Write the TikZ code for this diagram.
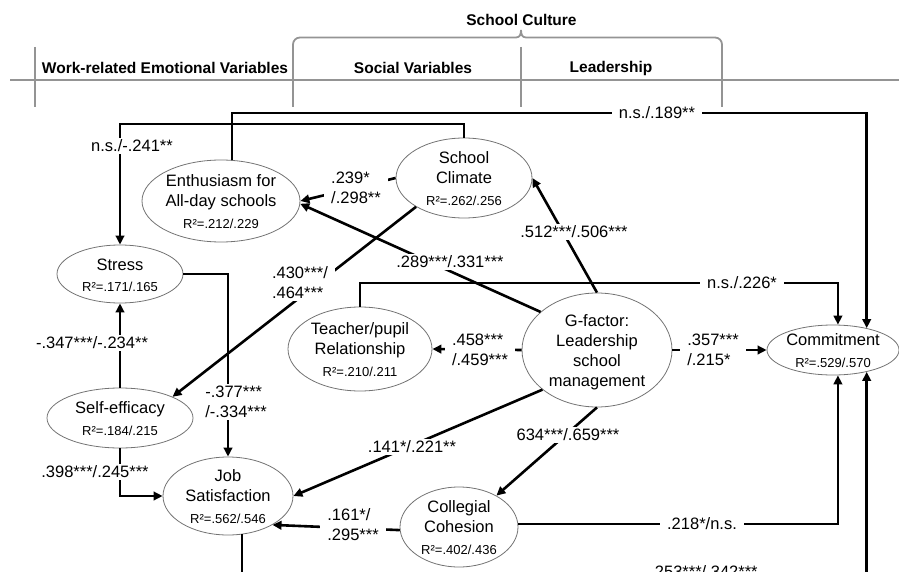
\documentclass[tikz,border=0pt]{standalone}
\usepackage{fontspec}
\setmainfont{Liberation Sans}
\usetikzlibrary{shapes.geometric,arrows.meta}
\newcommand{\lbl}{\fontsize{16.5}{20}\selectfont}
\newcommand{\rsq}{\fontsize{13}{15}\selectfont}
\newcommand{\hdr}{\fontsize{15.5}{18}\selectfont\bfseries}
\newcommand{\inell}[1]{\makebox[0pt]{\raisebox{-7pt}[0pt][0pt]{\begin{tabular}{@{}c@{}}#1\end{tabular}}}}
\tikzset{latent/.style={
  shape=ellipse,
  draw=black!55,
  line width=0.8pt,
  inner sep=0pt,
  font=\lbl,
  },
  coef/.style={
  fill=white,
  inner xsep=7pt,
  inner ysep=2pt,
  align=left,
  font=\lbl,
  },
  conn/.style={
  line width=2.6pt,
  -{Triangle[length=9pt,width=8.5pt]},
  },
  rule/.style={
  draw=black!42,
  line width=1.8pt,
  },
  }

\begin{document}
\begin{tikzpicture}[x=1pt,y=-1pt]
      \useasboundingbox (0,0) rectangle (899,572);
      \clip (0,0) rectangle (899,572);

      \draw[rule] (10,80) -- (899,80);
      \draw[rule] (35,47) -- (35,107);
      \draw[rule] (521,47) -- (521,107);
      \draw[rule, rounded corners=7pt] (293,107) -- (293,37.5) -- (516,37.5);
      \draw[rule] (516,37.5) .. controls (520,37.5) and (521,34) .. (521,30)
                  .. controls (521,34) and (522,37.5) .. (526,37.5);
      \draw[rule, rounded corners=7pt] (526,37.5) -- (722,37.5) -- (722,107);
      \node[font=\hdr] (hcult) at (521.5,20) {School Culture};
      \node[font=\hdr] (hwork) at (165,68) {Work-related Emotional Variables};
      \node[font=\hdr] (hsoc)  at (413,68) {Social Variables};
      \node[font=\hdr] (hlead) at (611,68) {Leadership};

      \node[latent, minimum width=158pt, minimum height=82pt] (enth) at (221,201)
        {\inell{Enthusiasm for\\All-day schools\\[2pt]{\rsq R²=.212/.229}}};
      \node[latent, minimum width=136pt, minimum height=80pt] (clim) at (464,178)
        {\inell{School\\Climate\\[2pt]{\rsq R²=.262/.256}}};
      \node[latent, minimum width=126pt, minimum height=58pt] (stress) at (120,274)
        {\inell{Stress\\[1pt]{\rsq R²=.171/.165}}};
      \node[latent, minimum width=144pt, minimum height=84pt] (tp) at (360,349)
        {\inell{Teacher/pupil\\Relationship\\[2pt]{\rsq R²=.210/.211}}};
      \node[latent, minimum width=150pt, minimum height=114pt] (gf) at (597,350)
        {\inell{G-factor:\\Leadership\\school\\management}};
      \node[latent, minimum width=132pt, minimum height=50pt] (comm) at (833,350)
        {\inell{Commitment\\[2pt]{\rsq R²=.529/.570}}};
      \node[latent, minimum width=146pt, minimum height=60pt] (self) at (120,418)
        {\inell{Self-efficacy\\[2pt]{\rsq R²=.184/.215}}};
      \node[latent, minimum width=130pt, minimum height=78pt] (job) at (228,496)
        {\inell{Job\\Satisfaction\\[2pt]{\rsq R²=.562/.546}}};
      \node[latent, minimum width=118pt, minimum height=80pt] (coll) at (459,527)
        {\inell{Collegial\\Cohesion\\[2pt]{\rsq R²=.402/.436}}};

      \coordinate (k1) at (comm.33 |- 0,113);
      \coordinate (k2) at (stress.north |- 0,124);
      \coordinate (k3) at (comm.79 |- 0,283);
      \coordinate (k4) at (comm.-33 |- 0,574);

      \draw[conn] (enth.75) |- (k1) -- (comm.33);
      \draw[conn] (clim.north) |- (k2) -- (stress.north);
      \draw[conn] (clim.west) -- (enth.east);
      \draw[conn] (gf.146) -- (enth.-2);
      \draw[conn] (clim.211) -- (self.22);
      \draw[conn] (gf.north) -- (clim.east);
      \draw[conn] (tp.north) |- (k3) -- (comm.79);
      \draw[conn] (gf.west) -- (tp.east);
      \draw[conn] (gf.east) -- (comm.west);
      \draw[conn] (stress.east) -| (job.north);
      \draw[conn] (self.north) -- (stress.south);
      \draw[conn] (self.south) |- (job.west);
      \draw[conn] (gf.216) -- (job.east);
      \draw[conn] (gf.south) -- (coll.40);
      \draw[conn] (coll.183) -- (job.-33);
      \draw[conn] (coll.3) -| (comm.-79);
      \draw[conn] (job.-70) |- (k4) -- (comm.-33);

      \node[coef] (l189) at (657,113) {n.s./.189**};
      \node[coef] (l241) at (132,146) {n.s./-.241**};
      \node[coef] (l239) at (356,188) {.239*\\/.298**};
      \node[coef] (l289) at (450,262) {.289***/.331***};
      \node[coef] (l430) at (300,283) {.430***/\\.464***};
      \node[coef] (l512) at (574,232) {.512***/.506***};
      \node[coef] (l226) at (742,283) {n.s./.226*};
      \node[coef] (l458) at (480,350) {.458***\\/.459***};
      \node[coef] (l357) at (713,350) {.357***\\/.215*};
      \node[coef] (l377) at (236,402) {-.377***\\/-.334***};
      \node[coef] (l347) at (92,343) {-.347***/-.234**};
      \node[coef] (l398) at (95,472) {.398***/.245***};
      \node[coef] (l141) at (412,447) {.141*/.221**};
      \node[coef] (l634) at (568,435) {634***/.659***};
      \node[coef] (l161) at (353,525) {.161*/\\.295***};
      \node[coef] (l218) at (702,524) {.218*/n.s.};
      \node[coef] (l253) at (704,572) {.253***/.342***};
    \end{tikzpicture}
\end{document}
